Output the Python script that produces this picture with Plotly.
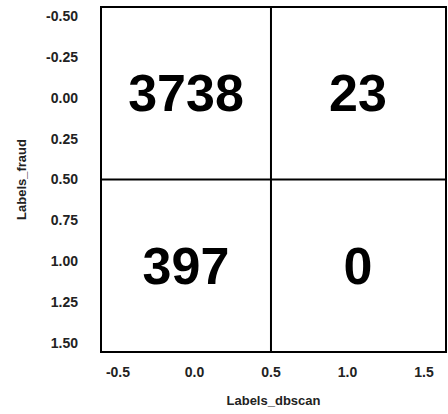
import plotly.graph_objects as go

# Confusion matrix: rows = Labels_fraud, columns = Labels_dbscan
row_labels = [0, 1]
col_labels = [0, 1]
counts = [[3738, 23],
          [397, 0]]

x_ticks = [-0.5, 0.0, 0.5, 1.0, 1.5]
y_ticks = [-0.5, -0.25, 0.0, 0.25, 0.5, 0.75, 1.0, 1.25, 1.5]

x_range = [-0.611, 1.644]
y_range = [1.555, -0.555]
split = 0.5

# cell edges span the visible axes, split at 0.5
x_edges = [x_range[0], split, x_range[1]]
y_edges = [y_range[1], split, y_range[0]]

font_family = "Liberation Sans, Arial, sans-serif"

fig = go.Figure(go.Heatmap(
    z=counts,
    x=x_edges,
    y=y_edges,
    colorscale=[[0, "white"], [1, "white"]],
    showscale=False,
    texttemplate="<b>%{z}</b>",
    textfont=dict(size=52, color="black", family=font_family),
    hoverinfo="skip",
))

line_style = dict(color="black", width=2)
fig.add_shape(type="line", xref="x", yref="paper", x0=split, x1=split, y0=0, y1=1, line=line_style)
fig.add_shape(type="line", xref="paper", yref="y", x0=0, x1=1, y0=split, y1=split, line=line_style)
fig.add_shape(type="rect", xref="paper", yref="paper", x0=0, x1=1, y0=0, y1=1, line=line_style)

axis_font = dict(family=font_family, size=14, color="#222")
fig.update_xaxes(
    range=x_range, tickvals=x_ticks, ticktext=[f"<b>{v:.1f}</b>" for v in x_ticks],
    showgrid=False, zeroline=False, showline=False, ticks="",
    tickfont=axis_font, ticklabelstandoff=10,
    title=dict(text="<b>Labels_dbscan</b>", font=dict(family=font_family, size=13, color="#222"), standoff=16),
)
fig.update_yaxes(
    range=y_range, tickvals=y_ticks, ticktext=[f"<b>{v:.2f}</b>" for v in y_ticks],
    showgrid=False, zeroline=False, showline=False, ticks="",
    tickfont=axis_font, ticklabelstandoff=22,
    title=dict(text="<b>Labels_fraud</b>", font=dict(family=font_family, size=13, color="#222"), standoff=16),
)

fig.update_layout(
    width=448, height=414,
    margin=dict(l=101, r=2, t=7, b=62),
    paper_bgcolor="white", plot_bgcolor="white",
)

fig.write_html("out.html")
